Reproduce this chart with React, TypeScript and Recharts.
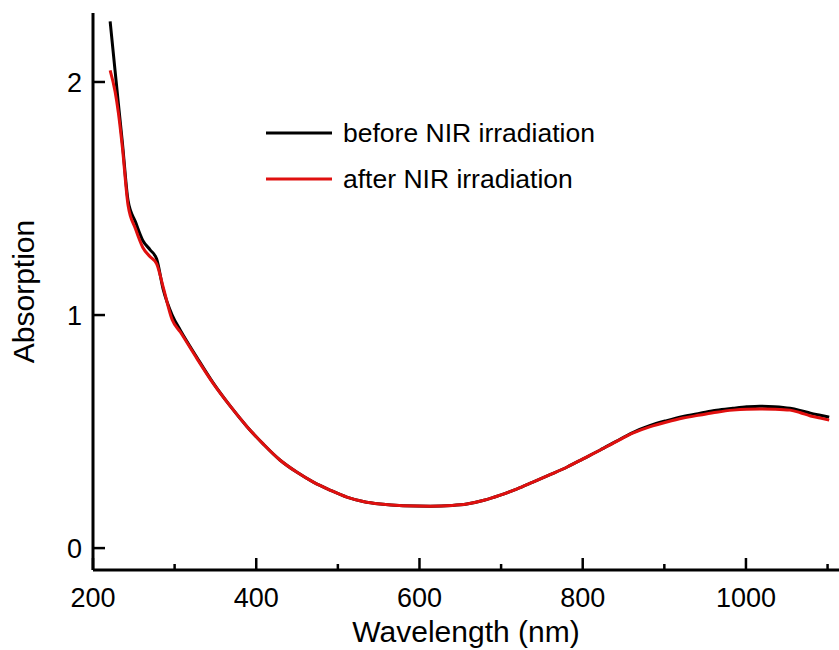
import { LineChart, Line, XAxis, YAxis, Label } from 'recharts'

const wavelengths = [221, 227, 231, 236, 243, 252, 261, 270, 278, 286, 297, 307, 327, 347, 368, 389, 409, 429, 450, 470, 491, 511, 531, 552, 580, 613, 640, 658, 679, 699, 719, 739, 760, 781, 801, 821, 841, 862, 882, 903, 923, 944, 964, 984, 1001, 1017, 1035, 1054, 1066, 1079, 1091, 1102]
const beforeNIR = [2.26, 2.05, 1.91, 1.74, 1.49, 1.4, 1.32, 1.28, 1.24, 1.11, 1.0, 0.935, 0.82, 0.71, 0.61, 0.52, 0.445, 0.378, 0.325, 0.283, 0.248, 0.219, 0.2, 0.189, 0.182, 0.18, 0.183, 0.189, 0.205, 0.227, 0.253, 0.283, 0.315, 0.348, 0.384, 0.42, 0.458, 0.497, 0.525, 0.547, 0.565, 0.579, 0.592, 0.6, 0.606, 0.609, 0.607, 0.6, 0.591, 0.579, 0.57, 0.562]
const afterNIR = [2.05, 1.96, 1.87, 1.72, 1.47, 1.37, 1.29, 1.25, 1.22, 1.12, 0.98, 0.927, 0.815, 0.708, 0.61, 0.52, 0.445, 0.378, 0.325, 0.283, 0.248, 0.219, 0.2, 0.189, 0.182, 0.18, 0.183, 0.189, 0.205, 0.227, 0.253, 0.283, 0.315, 0.348, 0.384, 0.42, 0.457, 0.494, 0.52, 0.541, 0.558, 0.571, 0.583, 0.592, 0.596, 0.597, 0.596, 0.592, 0.582, 0.567, 0.558, 0.549]

const xTicks = [200, 300, 400, 500, 600, 700, 800, 900, 1000, 1100]
const yTicks = [0, 1, 2]

const seriesNames = ['before NIR irradiation', 'after NIR irradiation']

const FONT = 'Arial, "Liberation Sans", sans-serif'
const RED = '#e0100f'

const data = wavelengths.map((w, i) => ({ w, before: beforeNIR[i], after: afterNIR[i] }))

const XTick = (props: any) => {
  const { x, y, payload } = props
  const major = payload.value % 200 === 0
  return (
    <g>
      <line x1={x} x2={x} y1={y} y2={y - (major ? 12 : 6)} stroke="#000" strokeWidth={2.5} />
      {major && (
        <text x={x} y={y + 18} dy="0.71em" textAnchor="middle" fontSize={27} fontFamily={FONT} fill="#000">
          {payload.value}
        </text>
      )}
    </g>
  )
}

const YTick = (props: any) => {
  const { x, y, payload } = props
  return (
    <g>
      <line x1={x} x2={x + 12} y1={y} y2={y} stroke="#000" strokeWidth={2.5} />
      <text x={x - 11} y={y} dy="0.355em" textAnchor="end" fontSize={27} fontFamily={FONT} fill="#000">
        {payload.value}
      </text>
    </g>
  )
}

// legend drawn as an overlay so it takes no room from the plot
const LegendBox = () => (
  <div style={{ position: 'absolute', left: 266, top: 110, fontFamily: FONT, fontSize: 26.5, color: '#000' }}>
    {[
      { name: seriesNames[0], color: '#000' },
      { name: seriesNames[1], color: RED }
    ].map(row => (
      <div key={row.name} style={{ display: 'flex', alignItems: 'center', height: 46, whiteSpace: 'nowrap' }}>
        <svg width={66} height={4} style={{ marginRight: 11 }}>
          <line x1={0} x2={66} y1={2} y2={2} stroke={row.color} strokeWidth={3} />
        </svg>
        <span style={{ lineHeight: 1 }}>{row.name}</span>
      </div>
    ))}
  </div>
)

export default function App() {
  return (
    <div style={{ position: 'fixed', left: 0, top: 0, width: 839, height: 650, background: '#fff' }}>
      <LineChart width={839} height={650} data={data} margin={{ top: 13, right: 0, left: 0, bottom: 0 }}>
        <XAxis
          dataKey="w"
          type="number"
          domain={[200, 1114]}
          allowDataOverflow
          ticks={xTicks}
          interval={0}
          height={80}
          tickSize={0}
          tickMargin={0}
          tickLine={false}
          tick={<XTick />}
          axisLine={{ stroke: '#000', strokeWidth: 3 }}
        >
          <Label
            content={(p: any) => {
              const vb = p.viewBox || { x: 93, y: 570, width: 746 }
              return (
                <text x={vb.x + vb.width / 2} y={vb.y + 72} textAnchor="middle" fontSize={30} fontFamily={FONT} fill="#000">
                  Wavelength (nm)
                </text>
              )
            }}
          />
        </XAxis>
        <XAxis
          xAxisId="top"
          orientation="top"
          dataKey="w"
          type="number"
          domain={[200, 1114]}
          allowDataOverflow
          height={0}
          tick={false}
          tickLine={false}
          axisLine={{ stroke: '#000', strokeWidth: 3 }}
        />
        <YAxis
          type="number"
          domain={[-0.094, 2.296]}
          allowDataOverflow
          ticks={yTicks}
          interval={0}
          width={93}
          tickSize={0}
          tickMargin={0}
          tickLine={false}
          tick={<YTick />}
          axisLine={{ stroke: '#000', strokeWidth: 3 }}
        >
          <Label
            content={(p: any) => {
              const vb = p.viewBox || { y: 13, height: 557 }
              const cy = vb.y + vb.height / 2
              return (
                <text x={34} y={cy} transform={`rotate(-90 34 ${cy})`} textAnchor="middle" fontSize={30} fontFamily={FONT} fill="#000">
                  Absorption
                </text>
              )
            }}
          />
        </YAxis>
        <Line type="monotone" dataKey="before" name={seriesNames[0]} stroke="#000" strokeWidth={3} dot={false} isAnimationActive={false} />
        <Line type="monotone" dataKey="after" name={seriesNames[1]} stroke={RED} strokeWidth={3} dot={false} isAnimationActive={false} />
      </LineChart>
      <LegendBox />
    </div>
  )
}
